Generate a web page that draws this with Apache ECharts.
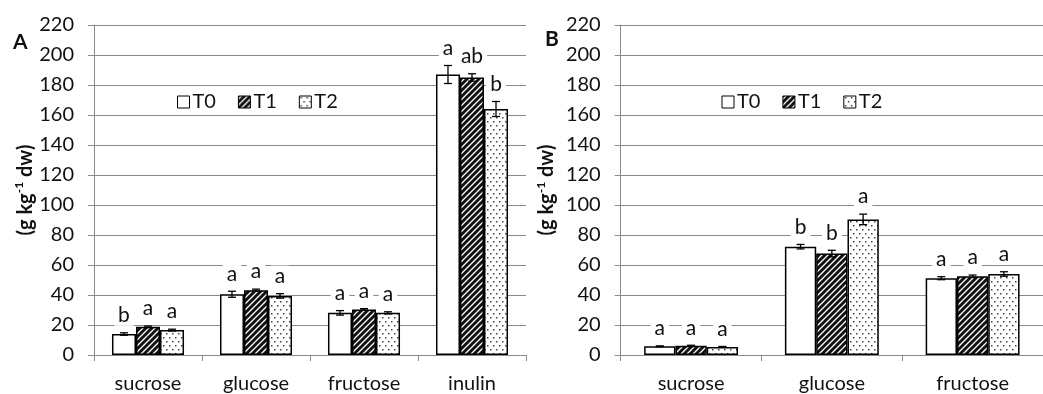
<!DOCTYPE html>
<html>
<head>
<meta charset="utf-8">
<script src="https://cdn.jsdelivr.net/npm/echarts@6/dist/echarts.min.js"></script>
<style>
html,body{margin:0;padding:0;background:#fff;}
#c{width:1043px;height:394px;}
</style>
</head>
<body>
<div id="c"></div>
<script>
// ---------- DATA ----------
var treatments = ['T0', 'T1', 'T2'];
var yTicks = [0, 20, 40, 60, 80, 100, 120, 140, 160, 180, 200, 220];

var categoriesA = ['sucrose', 'glucose', 'fructose', 'inulin'];
var A_T0 = [14.0, 40.5, 28.1, 187.0];
var A_T1 = [18.8, 43.2, 30.4, 185.0];
var A_T2 = [16.6, 39.4, 28.1, 164.0];
var A_err_T0 = [0.8, 2.0, 1.5, 6.0];
var A_err_T1 = [0.5, 0.7, 0.5, 2.5];
var A_err_T2 = [0.6, 1.5, 0.7, 5.0];
var A_let_T0 = ['b', 'a', 'a', 'a'];
var A_let_T1 = ['a', 'a', 'a', 'ab'];
var A_let_T2 = ['a', 'a', 'a', 'b'];

var categoriesB = ['sucrose', 'glucose', 'fructose'];
var B_T0 = [5.8, 72.2, 51.2];
var B_T1 = [6.2, 67.6, 52.5];
var B_T2 = [5.4, 90.4, 54.0];
var B_err_T0 = [0.3, 1.5, 1.0];
var B_err_T1 = [0.3, 2.2, 0.8];
var B_err_T2 = [0.3, 3.5, 1.5];
var B_let_T0 = ['a', 'b', 'a'];
var B_let_T1 = ['a', 'b', 'a'];
var B_let_T2 = ['a', 'a', 'a'];

// ---------- STYLE ----------
var FONT = 'Lato, "Open Sans", sans-serif';
var GRID_COLOR = '#8a8a8a';
var CAT_GAP = 0.333;

function stripePattern() {
  var s = 6, c = document.createElement('canvas');
  c.width = s; c.height = s;
  var g = c.getContext('2d');
  g.fillStyle = '#fff'; g.fillRect(0, 0, s, s);
  g.strokeStyle = '#111'; g.lineWidth = 3.0;
  g.beginPath();
  g.moveTo(-1, 1); g.lineTo(1, -1);
  g.moveTo(0, s); g.lineTo(s, 0);
  g.moveTo(s - 1, s + 1); g.lineTo(s + 1, s - 1);
  g.stroke();
  return c;
}
function dotPattern() {
  var c = document.createElement('canvas');
  c.width = 6; c.height = 8;
  var g = c.getContext('2d');
  g.fillStyle = '#fff'; g.fillRect(0, 0, 6, 8);
  g.fillStyle = '#444';
  g.fillRect(1, 1, 1.5, 1.5);
  g.fillRect(4, 5, 1.5, 1.5);
  return c;
}
var fills = [
  '#ffffff',
  { image: stripePattern(), repeat: 'repeat' },
  { image: dotPattern(), repeat: 'repeat' }
];

var panels = [
  { cats: categoriesA, vals: [A_T0, A_T1, A_T2], errs: [A_err_T0, A_err_T1, A_err_T2], lets: [A_let_T0, A_let_T1, A_let_T2] },
  { cats: categoriesB, vals: [B_T0, B_T1, B_T2], errs: [B_err_T0, B_err_T1, B_err_T2], lets: [B_let_T0, B_let_T1, B_let_T2] }
];

var grids = [
  { left: 94, top: 25, width: 432, bottom: 38 },
  { left: 620.7, top: 25, width: 431.4, bottom: 38 }
];
var nameGaps = [58, 64];

var xAxes = [], yAxes = [], series = [], legends = [];
panels.forEach(function (p, pi) {
  xAxes.push({
    type: 'category', gridIndex: pi, data: p.cats,
    axisLine: { show: true, lineStyle: { color: GRID_COLOR, width: 1 } },
    axisTick: { show: true, length: 6, lineStyle: { color: GRID_COLOR } },
    axisLabel: { color: '#111', fontFamily: FONT, fontSize: 20, margin: 19 },
    splitLine: { show: false }
  });
  yAxes.push({
    type: 'value', gridIndex: pi, min: yTicks[0], max: yTicks[yTicks.length - 1], interval: yTicks[1] - yTicks[0],
    name: '{b|(g kg}{s|-1}{b| dw)}', nameLocation: 'middle', nameGap: nameGaps[pi], nameRotate: 90,
    nameTextStyle: {
      rich: {
        b: { fontFamily: FONT, fontWeight: 'bold', fontSize: 20, color: '#111', lineHeight: 22, verticalAlign: 'bottom' },
        s: { fontFamily: FONT, fontWeight: 'bold', fontSize: 12, color: '#111', lineHeight: 22, verticalAlign: 'top' }
      }
    },
    axisLine: { show: true, lineStyle: { color: GRID_COLOR, width: 1 } },
    axisTick: { show: true, length: 6, lineStyle: { color: GRID_COLOR } },
    axisLabel: { color: '#111', fontFamily: FONT, fontSize: 20, margin: 20 },
    splitLine: { show: true, lineStyle: { color: GRID_COLOR, width: 1 } }
  });
  treatments.forEach(function (t, ti) {
    series.push({
      type: 'bar', name: t, xAxisIndex: pi, yAxisIndex: pi,
      data: p.vals[ti],
      barGap: '0%', barCategoryGap: (CAT_GAP * 100) + '%',
      itemStyle: { color: fills[ti], borderColor: '#000', borderWidth: 1.5 },
      emphasis: { disabled: true },
      animation: false
    });
  });
  // error bars + significance letters
  var edata = [], letters = [];
  treatments.forEach(function (t, ti) {
    p.cats.forEach(function (c, ci) {
      edata.push([ci, ti, p.vals[ti][ci], p.errs[ti][ci]]);
      letters.push(p.lets[ti][ci]);
    });
  });
  series.push({
    type: 'custom', name: 'err' + pi, xAxisIndex: pi, yAxisIndex: pi,
    data: edata, animation: false, z: 5,
    encode: { x: 0, y: 2 },
    renderItem: (function (letters) {
      return function (params, api) {
        var ci = api.value(0), ti = api.value(1), v = api.value(2), e = api.value(3);
        var band = api.size([1, 0])[0];
        var bw = band * (1 - CAT_GAP) / 3;
        var base = api.coord([ci, v]);
        var x = base[0] + (ti - 1) * bw;
        var yTop = api.coord([ci, v + e])[1];
        var yBot = api.coord([ci, v - e])[1];
        var cap = 4;
        var ls = { stroke: '#000', lineWidth: 1.3 };
        return {
          type: 'group',
          children: [
            { type: 'line', shape: { x1: x, y1: yTop, x2: x, y2: yBot }, style: ls },
            { type: 'line', shape: { x1: x - cap, y1: yTop, x2: x + cap, y2: yTop }, style: ls },
            { type: 'line', shape: { x1: x - cap, y1: yBot, x2: x + cap, y2: yBot }, style: ls },
            {
              type: 'text', x: x, y: yTop - 7,
              style: {
                text: letters[params.dataIndex], fill: '#111',
                font: '21px ' + FONT, align: 'center', verticalAlign: 'bottom',
                backgroundColor: '#fff', padding: [0, 4, 0, 4]
              }
            }
          ]
        };
      };
    })(letters)
  });
});

legends.push({
  left: 177, top: 92, padding: 0, data: treatments, icon: 'rect', itemWidth: 12, itemHeight: 12, itemGap: 22,
  textStyle: { fontFamily: FONT, fontSize: 20, color: '#111', padding: [0, 0, 0, -2] },
  itemStyle: { borderColor: '#000', borderWidth: 1 }, selectedMode: false
});
legends.push({
  left: 721.5, top: 92, padding: 0, data: treatments, icon: 'rect', itemWidth: 12, itemHeight: 12, itemGap: 22,
  textStyle: { fontFamily: FONT, fontSize: 20, color: '#111', padding: [0, 0, 0, -2] },
  itemStyle: { borderColor: '#000', borderWidth: 1 }, selectedMode: false
});

var chart = echarts.init(document.getElementById('c'));
chart.setOption({
  backgroundColor: '#fff',
  animation: false,
  grid: grids,
  xAxis: xAxes,
  yAxis: yAxes,
  legend: legends,
  series: series,
  graphic: [
    { type: 'text', left: 13, top: 32, style: { text: 'A', font: 'bold 21px ' + FONT, fill: '#111' } },
    { type: 'text', left: 545, top: 29, style: { text: 'B', font: 'bold 21px ' + FONT, fill: '#111' } }
  ]
});
</script>
</body>
</html>
